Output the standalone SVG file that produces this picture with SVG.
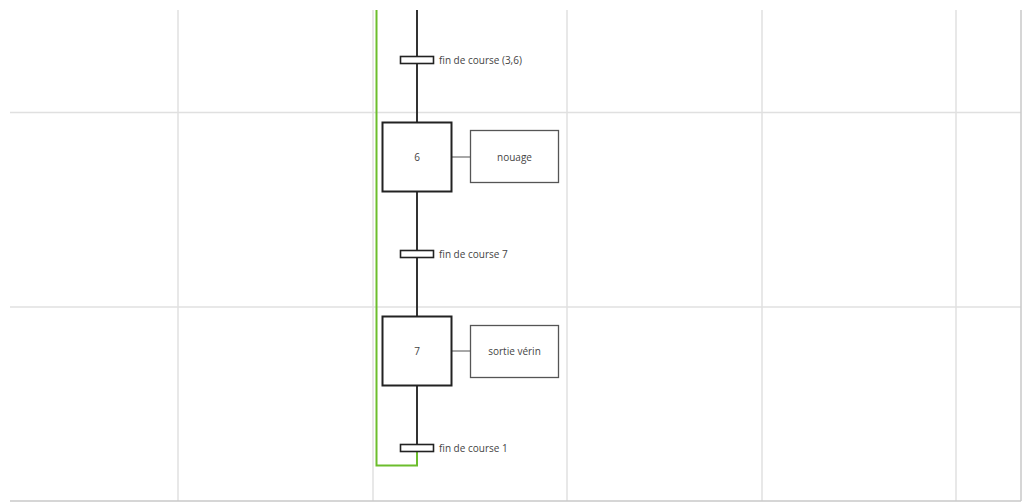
<svg xmlns="http://www.w3.org/2000/svg" width="1022" height="502" viewBox="0 0 1022 502">
<style>
.grid{stroke:#e0e0e0;stroke-width:1.5;fill:none}
.edge{stroke:#c8c8c8;stroke-width:1.5;fill:none}
.link{stroke:#333;stroke-width:2;fill:none}
.green{stroke:#6cbd2c;stroke-width:2;fill:none}
.step{fill:#fff;stroke:#222;stroke-width:2}
.bar{fill:#fff;stroke:#222;stroke-width:1.6}
.act{fill:#fff;stroke:#555;stroke-width:1.3}
.actlink{stroke:#777;stroke-width:1.3;fill:none}
text{font-family:"Open Sans","Noto Sans",sans-serif;font-size:10px;fill:#444}
.c{text-anchor:middle;dominant-baseline:central}
</style>
<rect width="1022" height="502" fill="#fff"/>
<g id="grid">
<line class="grid" x1="178" y1="10" x2="178" y2="501"/>
<line class="grid" x1="373" y1="10" x2="373" y2="501"/>
<line class="grid" x1="567" y1="10" x2="567" y2="501"/>
<line class="grid" x1="762" y1="10" x2="762" y2="501"/>
<line class="grid" x1="956" y1="10" x2="956" y2="501"/>
<line class="grid" x1="10" y1="112.5" x2="1021" y2="112.5"/>
<line class="grid" x1="10" y1="307" x2="1021" y2="307"/>
<line class="edge" x1="10" y1="501" x2="1021" y2="501"/>
<line class="edge" x1="1021" y1="10" x2="1021" y2="501"/>
</g>
<g id="connectors">
<line class="link" x1="417" y1="10" x2="417" y2="122.5"/>
<line class="link" x1="417" y1="191.5" x2="417" y2="316.5"/>
<line class="link" x1="417" y1="385.5" x2="417" y2="445"/>
<polyline class="green" points="376.5,10 376.5,465.5 417,465.5 417,452"/>
<line class="actlink" x1="452" y1="157" x2="470.5" y2="157"/>
<line class="actlink" x1="452" y1="351" x2="470.5" y2="351"/>
</g>
<g id="t36">
<rect class="bar" x="400.5" y="56.5" width="33" height="7"/>
<text x="439" y="64">fin de course (3,6)</text>
</g>
<g id="step6">
<rect class="step" x="382.5" y="122.5" width="69" height="69"/>
<text class="c" x="417" y="157">6</text>
</g>
<g id="action6">
<rect class="act" x="470.5" y="130.5" width="88" height="52"/>
<text class="c" x="514.5" y="157">nouage</text>
</g>
<g id="t7">
<rect class="bar" x="400.5" y="250.5" width="33" height="7"/>
<text x="439" y="258">fin de course 7</text>
</g>
<g id="step7">
<rect class="step" x="382.5" y="316.5" width="69" height="69"/>
<text class="c" x="417" y="351">7</text>
</g>
<g id="action7">
<rect class="act" x="470.5" y="325.5" width="88" height="52"/>
<text class="c" x="514.5" y="351">sortie vérin</text>
</g>
<g id="t1">
<rect class="bar" x="400.5" y="444.5" width="33" height="7"/>
<text x="439" y="452">fin de course 1</text>
</g>
</svg>
